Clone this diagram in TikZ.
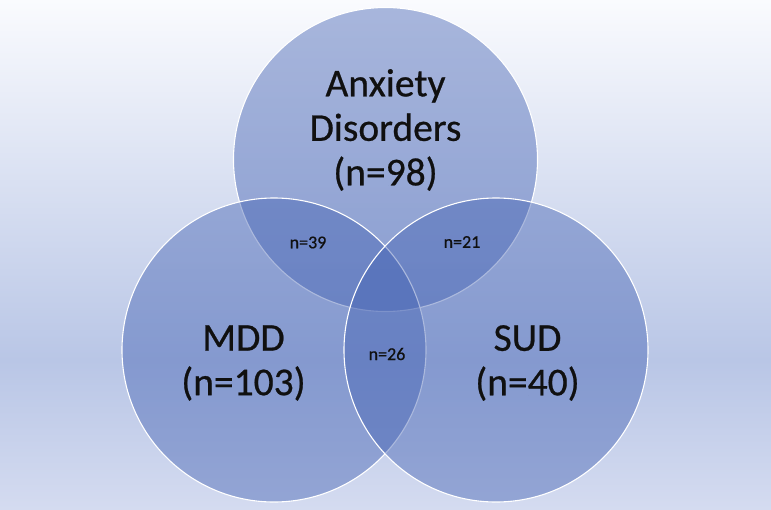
\documentclass[tikz,border=0pt]{standalone}
\usepackage{fontspec}
\setmainfont{Carlito}[UprightFeatures={FakeBold=0.6}]
\definecolor{bgtop}{HTML}{FAFBFE}
\definecolor{bgmid}{HTML}{B9C6E6}
\definecolor{bgbot}{HTML}{D4DBF0}
\definecolor{vennfill}{HTML}{4664B4}
\definecolor{txt}{HTML}{101010}
\tikzset{
  vcirc/.style={circle, minimum size=304pt, inner sep=0pt, fill=vennfill, fill opacity=0.45, draw=white, draw opacity=1, line width=1.1pt},
  bigtxt/.style={align=center, text=txt, font=\fontsize{39.5}{44.5}\selectfont, inner sep=0pt},
  smalltxt/.style={text=txt, font=\fontsize{18}{20}\selectfont, inner sep=0pt}
}
\begin{document}
\begin{tikzpicture}[x=1pt,y=-1pt]
\useasboundingbox (0,0) rectangle (771,509);
\shade[top color=bgtop, bottom color=bgmid] (0,0) rectangle (771,360);
\shade[top color=bgmid, bottom color=bgbot] (0,360) rectangle (771,509);
\node[vcirc] (anx) at (385.5,159.5) {};
\node[vcirc] (mdd) at (274,350) {};
\node[vcirc] (sud) at (496,350) {};
\node[bigtxt] (anxl) at (385.5,130) {Anxiety\\Disorders\\(n=98)};
\node[bigtxt] (mddl) at (243.5,363) {MDD\\(n=103)};
\node[bigtxt] (sudl) at (527.5,363) {SUD\\(n=40)};
\node[smalltxt] (am) at (308,242.5) {n=39};
\node[smalltxt] (as) at (462,242) {n=21};
\node[smalltxt] (ms) at (387,354) {n=26};
\end{tikzpicture}
\end{document}
